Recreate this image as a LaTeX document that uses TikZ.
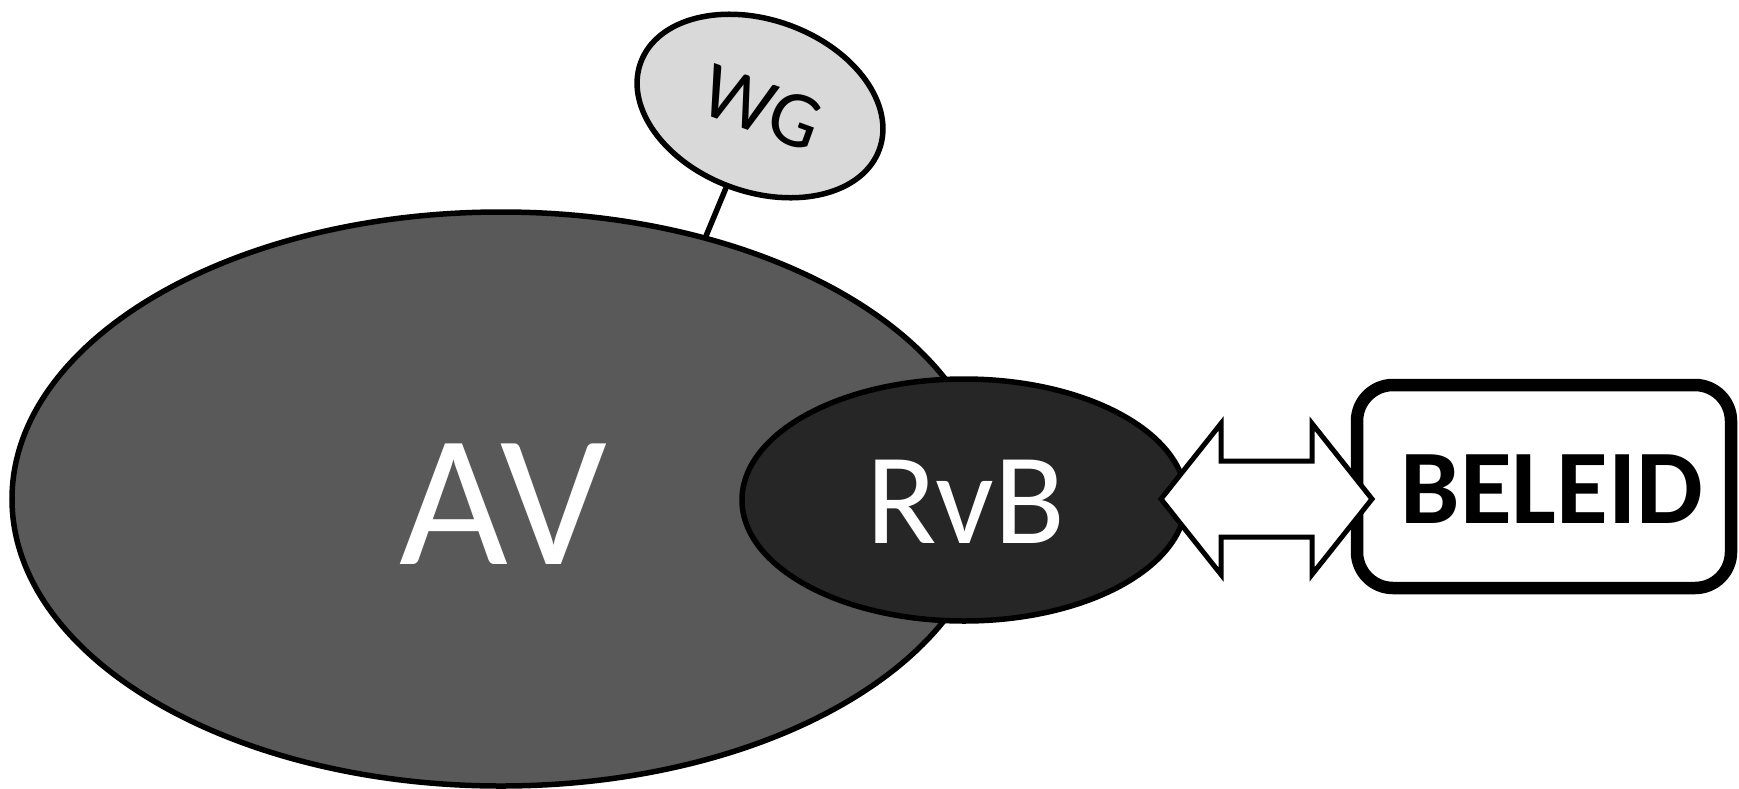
\documentclass[tikz,border=0pt]{standalone}
\usepackage{fontspec}
\setmainfont{Carlito}
\usetikzlibrary{shapes.geometric,calc}
\definecolor{avgray}{HTML}{595959}
\definecolor{rvbgray}{HTML}{262626}
\definecolor{wggray}{HTML}{D9D9D9}
\tikzset{
  blob/.style={ellipse, draw=black, line width=5.5pt, inner sep=0pt, outer sep=0pt},
  conn/.style={draw=black, line width=5.5pt},
  box/.style={draw=black, line width=12.5pt, rounded corners=36pt, fill=white, inner sep=0pt},
  dblarrow/.style={draw=black, line width=5pt, fill=white, line join=miter}
}
\begin{document}
\begin{tikzpicture}[x=1pt,y=-1pt]
\useasboundingbox (0,0) rectangle (1739,788);
% connector first (hidden under shapes)
\coordinate (avtop) at (706,236);
\coordinate (wgc) at (760,106);
\draw[conn] (wgc) -- ($(wgc)!1.25!(avtop)$);
\node[blob, fill=avgray, minimum width=978pt, minimum height=574pt] (av) at (501,499) {};
\node[text=white, font=\fontsize{188}{188}\selectfont] (avt) at (503,504) {AV};
\node[blob, fill=rvbgray, minimum width=444pt, minimum height=242pt] (rvb) at (964,500) {};
\node[text=white, font=\fontsize{130}{130}\selectfont] (rvbt) at (966,502) {RvB};
\node[blob, fill=wggray, minimum width=254pt, minimum height=172pt, rotate=-20] (wg) at (wgc) {};
\node[text=black, rotate=-20, font=\fontsize{80}{80}\selectfont] (wgt) at (762,108) {WG};
\node[box, minimum width=374pt, minimum height=203pt] (bel) at (1544,486.5) {};
\node[text=black, font=\bfseries\fontsize{106}{106}\selectfont] (belt) at (1552,489.5) {BELEID};
\coordinate (arr) at (1266.5,499);
\draw[dblarrow] ($(arr)+(-105.5,0)$) -- ($(arr)+(-45.5,-75.5)$) -- ($(arr)+(-45.5,-38)$)
  -- ($(arr)+(45.5,-38)$) -- ($(arr)+(45.5,-75.5)$) -- ($(arr)+(105.5,0)$)
  -- ($(arr)+(45.5,75.5)$) -- ($(arr)+(45.5,38)$) -- ($(arr)+(-45.5,38)$)
  -- ($(arr)+(-45.5,75.5)$) -- cycle;
\end{tikzpicture}
\end{document}
